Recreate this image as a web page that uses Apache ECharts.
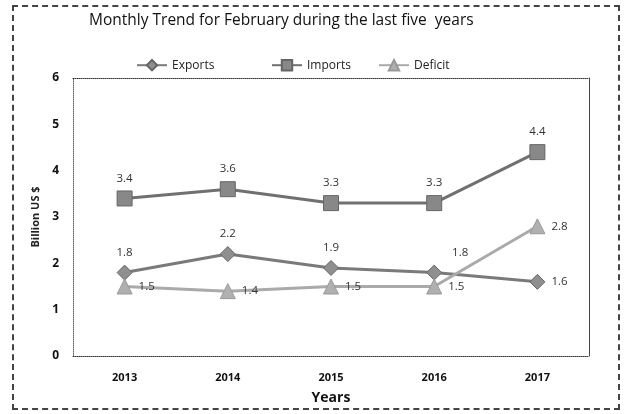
<!DOCTYPE html>
<html><head><meta charset="utf-8">
<script src="https://cdn.jsdelivr.net/npm/echarts@6/dist/echarts.min.js"></script>
<style>html,body{margin:0;padding:0;background:#fff}#c{width:626px;height:414px;}
#frame{position:absolute;left:12px;top:5px;width:608px;height:405px;border:2px dashed #444;box-sizing:border-box;pointer-events:none}</style>
</head><body><div id="c"></div><div id="frame"></div>
<script>
const years = ['2013','2014','2015','2016','2017'];
const exportsData = [1.8, 2.2, 1.9, 1.8, 1.6];
const importsData = [3.4, 3.6, 3.3, 3.3, 4.4];
const deficitData = [1.5, 1.4, 1.5, 1.5, 2.8];

const font = '"Open Sans", "Liberation Sans", sans-serif';
const chart = echarts.init(document.getElementById('c'));
const lbl = (pos) => ({show:true, position:pos, color:'#333', fontSize:11.5, fontFamily:font, distance:6});
const exportsItems = exportsData.map((v,i)=> i===4 ? {value:v, label:{position:'right'}}
  : (i===3 ? {value:v, label:{position:'top', offset:[26,0]}} : {value:v}));
const leg = (name, left) => ({top:54, left:left, itemWidth:30, itemHeight:13,
    textStyle:{fontFamily:font, fontSize:12, color:'#222'}, data:[name]});
chart.setOption({
  animation:false,
  title:{text:'Monthly Trend for February during the last five  years', left:84, top:8,
    textStyle:{fontFamily:font, fontSize:15.5, fontWeight:'normal', color:'#111'}},
  legend:[leg('Exports',131), leg('Imports',266), leg('Deficit',373)],
  grid:{left:73, right:37, top:78, bottom:58},
  xAxis:[{type:'category', data:years, name:'Years', nameLocation:'middle', nameGap:35,
    nameTextStyle:{fontFamily:font, fontSize:14, fontWeight:'bold', color:'#111'},
    axisLine:{show:true, lineStyle:{color:'#333', type:'dotted'}}, axisTick:{show:false},
    axisLabel:{fontFamily:font, fontSize:11, fontWeight:'bold', color:'#111', margin:16}},
    {type:'category', data:years, position:'top', axisLine:{show:true, onZero:false, lineStyle:{color:'#333', type:'dotted'}},
     axisTick:{show:false}, axisLabel:{show:false}}],
  yAxis:[{type:'value', min:0, max:6, interval:1, name:'Billion US $', nameLocation:'middle', nameGap:27,
    nameTextStyle:{fontFamily:font, fontSize:11, fontWeight:'bold', color:'#222'},
    splitLine:{show:false},
    axisLine:{show:true, onZero:false, lineStyle:{color:'#666', type:'dotted'}}, axisTick:{show:false},
    axisLabel:{fontFamily:font, fontSize:12, fontWeight:'bold', color:'#111', margin:14}},
    {type:'value', min:0, max:6, interval:1, position:'right', splitLine:{show:false},
     axisLine:{show:true, onZero:false, lineStyle:{color:'#444', width:1}}, axisTick:{show:false}, axisLabel:{show:false}}],
  series:[
    {name:'Exports', type:'line', data:exportsItems, symbol:'diamond', symbolSize:15,
      lineStyle:{width:3, color:'#7a7a7a'}, itemStyle:{color:'#8f8f8f', borderColor:'#666', borderWidth:1},
      label:lbl('top'), emphasis:{disabled:true}},
    {name:'Imports', type:'line', data:importsData, symbol:'rect', symbolSize:15,
      lineStyle:{width:3, color:'#707070'}, itemStyle:{color:'#888', borderColor:'#666', borderWidth:1},
      label:lbl('top'), emphasis:{disabled:true}},
    {name:'Deficit', type:'line', data:deficitData, symbol:'triangle', symbolSize:15,
      lineStyle:{width:3, color:'#aaa'}, itemStyle:{color:'#b0b0b0', borderColor:'#999', borderWidth:1},
      label:lbl('right'), emphasis:{disabled:true}}
  ]
});
</script></body></html>
